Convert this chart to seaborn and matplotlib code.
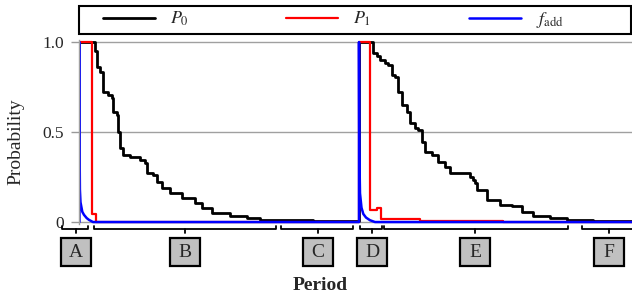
import matplotlib
matplotlib.use('Agg')
import matplotlib.pyplot as plt
from matplotlib.patches import Rectangle
import pandas as pd
import seaborn as sns

# period index (arbitrary units) and probabilities
p0_t = [0, 14, 16, 17.5, 21, 24, 29, 32.5, 34, 37.5, 39, 41, 44, 51, 61, 66, 67.5,
        74, 77.5, 82.5, 91, 102.5, 116, 122.5, 132.5, 151, 167.5, 181, 234, 280,
        292.5, 294, 297.5, 301, 306, 309, 312.5, 316, 319, 322.5, 327.5, 331, 336,
        339, 342.5, 346, 352.5, 359, 366, 371, 391, 394, 396, 398, 408, 421, 433,
        443, 454, 471, 488, 514, 553]
p0_v = [1.0, 1.0, 0.95, 0.86, 0.835, 0.72, 0.705, 0.69, 0.61, 0.595, 0.50, 0.41, 0.372,
        0.363, 0.344, 0.328, 0.272, 0.261, 0.224, 0.189, 0.161, 0.133, 0.105, 0.078,
        0.05, 0.033, 0.022, 0.011, 0.007, 1.0,
        1.0, 0.94, 0.92, 0.90, 0.883, 0.872, 0.817, 0.807, 0.724, 0.65, 0.613, 0.55,
        0.522, 0.511, 0.446, 0.39, 0.372, 0.335, 0.307, 0.272, 0.252, 0.233, 0.217,
        0.178, 0.122, 0.094, 0.089, 0.057, 0.033, 0.022, 0.011, 0.007, 0.005]

p1_t = [0, 13, 17, 110, 280, 291, 297.5, 301.5, 341, 424, 553]
p1_v = [1.0, 0.045, 0.003, 0.001, 1.0, 0.067, 0.076, 0.017, 0.008, 0.0, 0.0]

fadd_t = [0.5, 0.5, 0.6, 0.9, 1.5, 3.3, 5, 7.7, 10, 14, 280, 280, 280.3, 281, 282.5,
          284.3, 287, 291, 296, 553]
fadd_v = [0.0, 1.0, 0.4, 0.18, 0.11, 0.057, 0.04, 0.022, 0.012, 0.0, 0.0, 1.0, 0.4,
          0.16, 0.08, 0.045, 0.025, 0.01, 0.0, 0.0]

# period brackets below the axis
phase_labels = ['A', 'B', 'C', 'D', 'E', 'F']
phase_start = [-17, 15, 202, 281, 305, 503]
phase_end = [9, 197, 274, 303, 489, 570]
phase_mid = [-3, 106, 239, 293, 396, 530]

sns.set_style('white')
plt.rcParams['font.family'] = ['Liberation Serif', 'DejaVu Serif']
plt.rcParams['mathtext.fontset'] = 'stix'

fig = plt.figure(figsize=(6.32, 2.97), dpi=100)
ax = fig.add_axes([79 / 632, 1 - 224.2 / 297, 553 / 632, 184.3 / 297])

p0 = pd.DataFrame({'t': p0_t, 'v': p0_v})
p1 = pd.DataFrame({'t': p1_t, 'v': p1_v})
fadd = pd.DataFrame({'t': fadd_t, 'v': fadd_v})

sns.lineplot(data=p0, x='t', y='v', sort=False, estimator=None, color='black',
             lw=2, drawstyle='steps-post', label='$P_0$', ax=ax)
sns.lineplot(data=p1, x='t', y='v', sort=False, estimator=None, color='#ff0000',
             lw=1.6, drawstyle='steps-post', label='$P_1$', ax=ax)
sns.lineplot(data=fadd, x='t', y='v', sort=False, estimator=None, color='#0000ff',
             lw=1.8, label=r'$f_{\mathrm{add}}$', ax=ax)

ax.set_xlim(0, 553)
ax.set_ylim(-0.012, 1.012)
ax.set_xticks([])
ax.set_yticks([0, 0.5, 1.0])
ax.set_yticklabels(['0', '0.5', '1.0'])
ax.tick_params(axis='y', length=6, width=1, color='#999999', labelsize=12.5, pad=5,
               left=True)
ax.yaxis.grid(True, color='#a0a0a0', lw=1)
for s in ['top', 'right', 'bottom']:
    ax.spines[s].set_visible(False)
ax.spines['left'].set_color('#a0a0a0')
ax.spines['left'].set_linewidth(1)

ax.set_ylabel('Probability', fontsize=14)
ax.yaxis.set_label_coords(-0.098, 0.45)
ax.set_xlabel('Period', fontsize=14, fontweight='bold', va='top')
ax.xaxis.set_label_coords(0.436, -0.285)

# brackets and boxed letters
for lab, s, e, c in zip(phase_labels, phase_start, phase_end, phase_mid):
    ax.plot([s, s, e, e], [-0.022, -0.039, -0.039, -0.022], color='black', lw=1.3,
            clip_on=False)
    ax.plot([c, c], [-0.039, -0.061], color='black', lw=1.3, clip_on=False)
    ax.add_patch(Rectangle((c - 15, -0.244), 30, 0.155, facecolor='#c0c0c0',
                           edgecolor='black', lw=1.6, clip_on=False))
    ax.text(c, -0.167, lab, ha='center', va='center', fontsize=14)

ax.legend(loc='center left', bbox_to_anchor=(103 / 632, 1 - 20 / 297),
          bbox_transform=fig.transFigure, ncol=3, frameon=False, fontsize=13,
          handlelength=2.88, handletextpad=0.83, columnspacing=5.4,
          borderpad=0, borderaxespad=0)
fig.patches.append(Rectangle((79 / 632, 1 - 34 / 297), 552 / 632, 28 / 297,
                             transform=fig.transFigure, fill=False,
                             edgecolor='black', lw=1.5))

fig.savefig('out.png', dpi=100)
